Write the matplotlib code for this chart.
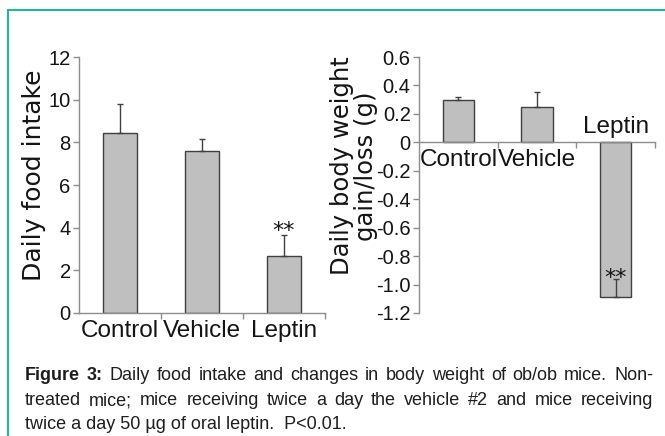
import numpy as np
import matplotlib
matplotlib.use('Agg')
import matplotlib.pyplot as plt
from matplotlib.lines import Line2D

# ---------- data ---------- #

groups = ['Control', 'Vehicle', 'Leptin']

food = [8.42, 7.59, 2.68]            # daily food intake
food_err = [1.36, 0.55, 0.96]        # upper error only
food_ticks = [0, 2, 4, 6, 8, 10, 12]

weight = [0.30, 0.245, -1.09]        # daily body weight gain/loss (g)
weight_err = [0.02, 0.11, 0.13]
weight_ticks = [0.6, 0.4, 0.2, 0, -0.2, -0.4, -0.6, -0.8, -1.0, -1.2]
weight_ticklabels = ['0.6', '0.4', '0.2', '0', '-0.2', '-0.4', '-0.6',
                     '-0.8', '-1.0', '-1.2']

signif = [False, False, True]        # ** P<0.01

caption = [
    [('Figure', 'bold'), ('3:', 'bold')] + [(w, 'normal') for w in
        'Daily food intake and changes in body weight of ob/ob mice. Non-'.split()],
    [(w, 'normal') for w in
        'treated mice; mice receiving twice a day the vehicle #2 and mice receiving'.split()],
    'twice a day 50 \u00b5g of oral leptin.  P<0.01.',
]

# ---------- style ---------- #

W, H = 665, 436                      # figure size in pixels (dpi 100)
plt.rcParams['font.family'] = ['Liberation Sans', 'DejaVu Sans']

bar_face = '#bfbfbf'
bar_edge = '#404040'
axis_col = '#8c8c8c'
text_col = '#141414'
teal = '#17b897'

fig = plt.figure(figsize=(W/100, H/100), dpi=100)

def style_axes(ax):
	for s in ['top', 'right']:
		ax.spines[s].set_visible(False)
	for s in ['left', 'bottom']:
		ax.spines[s].set_color(axis_col)
		ax.spines[s].set_linewidth(1)
	ax.tick_params(axis='y', direction='out', length=4, width=1, color=axis_col,
		labelcolor=text_col, labelsize=14.5, pad=2)
	ax.tick_params(axis='x', which='major', length=0, labelcolor=text_col,
		labelsize=17.5, pad=5)
	ax.tick_params(axis='x', which='minor', direction='out', length=4, width=1,
		color=axis_col)
	ax.set_xlim(-0.5, len(groups)-0.5)
	ax.set_xticks(np.arange(len(groups)) + 0.5, minor=True)
	ax.patch.set_visible(False)

x = np.arange(len(groups))

# ---------- left: daily food intake ---------- #

ax1 = fig.add_axes([79/W, 1-313/H, 246/W, 256/H])
ax1.bar(x, food, width=0.41, color=bar_face, edgecolor=bar_edge, linewidth=1, zorder=2)
ax1.errorbar(x, food, yerr=[np.zeros(len(food)), food_err], fmt='none',
	ecolor=bar_edge, elinewidth=1, capsize=2.5, capthick=1, zorder=3)
ax1.set_ylim(0, 12)
ax1.set_yticks(food_ticks)
ax1.set_xticks(x, groups)
style_axes(ax1)

for i in range(len(groups)):
	if signif[i]:
		ax1.annotate('**', xy=(i, food[i]+food_err[i]), xytext=(0, -1.5),
			textcoords='offset points', ha='center', va='baseline',
			fontsize=16, family='DejaVu Sans', color=text_col, zorder=4)

fig.text(34/W, 1-175/H, 'Daily food intake', rotation=90, ha='center', va='center',
	fontsize=18, family='DejaVu Sans', color=text_col)

# ---------- right: body weight gain/loss ---------- #

ax2 = fig.add_axes([419/W, 1-313/H, 236/W, 256/H])
ax2.bar(x, weight, width=0.40, color=bar_face, edgecolor=bar_edge, linewidth=1, zorder=2)
ax2.errorbar(x, weight, yerr=[np.zeros(len(weight)), weight_err], fmt='none',
	ecolor=bar_edge, elinewidth=1, capsize=2.5, capthick=1, zorder=3)
ax2.set_ylim(-1.2, 0.6)
ax2.set_yticks(weight_ticks, weight_ticklabels)
ax2.spines['bottom'].set_position(('data', 0))
# labels of negative bars go above the zero line
ax2.set_xticks(x, [g if v >= 0 else '' for g, v in zip(groups, weight)])
style_axes(ax2)

for i in range(len(groups)):
	if weight[i] < 0:
		ax2.annotate(groups[i], xy=(i, 0), xytext=(0, 7), textcoords='offset points',
			ha='center', va='baseline', fontsize=17.5, color=text_col)
	if signif[i]:
		ax2.annotate('**', xy=(i, weight[i]+weight_err[i]), xytext=(0, -3.5),
			textcoords='offset points', ha='center', va='baseline',
			fontsize=16, family='DejaVu Sans', color=text_col, zorder=4)

fig.text(354/W, 1-166/H, 'Daily body weight\ngain/loss (g)', rotation=90,
	ha='center', va='center', multialignment='center', linespacing=0.95,
	fontsize=17.5, family='DejaVu Sans', color=text_col)

# ---------- caption (justified) ---------- #

rend = fig.canvas.get_renderer()
x0, x1 = 25, 653
baselines = [380, 405, 429]
cap_font = dict(fontsize=13, family='Liberation Sans', color='#1e1e1e', va='baseline')

for line, yb in zip(caption, baselines):
	if isinstance(line, str):
		fig.text(x0/W, 1-yb/H, line, **cap_font)
		continue
	texts = [fig.text(0, 1-yb/H, w, fontweight=b, **cap_font) for w, b in line]
	widths = [t.get_window_extent(rend).width for t in texts]
	gap = (x1 - x0 - sum(widths)) / (len(texts) - 1)
	xp = x0
	for t, wd in zip(texts, widths):
		t.set_x(xp/W)
		xp += wd + gap

# ---------- frame ---------- #

fig.add_artist(Line2D([8/W, 1], [1-10/H, 1-10/H], transform=fig.transFigure,
	color=teal, lw=1.4))
fig.add_artist(Line2D([8/W, 8/W], [1-10/H, 0], transform=fig.transFigure,
	color=teal, lw=1.4))

fig.savefig('out.png', dpi=100)
plt.close()
